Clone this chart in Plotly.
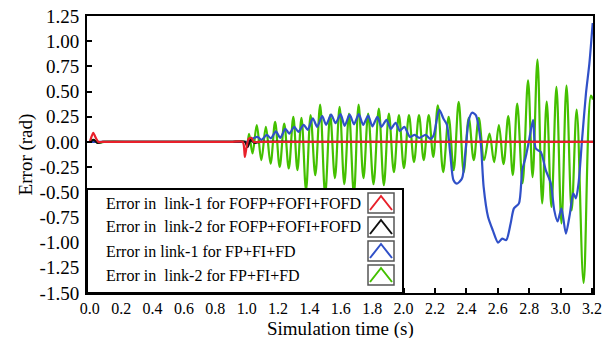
import plotly.graph_objects as go

# ---------------- data ----------------
red_t = [0.0, 0.008, 0.022, 0.038, 0.055, 0.08, 0.3, 0.6, 0.9, 0.975, 0.988, 0.998, 1.012, 1.03, 1.045, 1.07, 1.5, 2.0, 2.5, 3.0, 3.207]
red_e = [0.0, 0.04, 0.09, 0.04, 0.0, 0.0, 0.0, 0.0, 0.0, 0.0, -0.15, -0.06, 0.03, 0.04, 0.0, 0.0, 0.0, 0.0, 0.0, 0.0, 0.0]

black_t = [0.0, 0.025, 0.05, 0.08, 0.3, 0.6, 0.9, 0.99, 1.005, 1.025, 1.05, 1.08, 1.5, 2.0, 2.5, 3.0, 3.207]
black_e = [0.0, 0.02, -0.01, 0.0, 0.0, 0.0, 0.0, 0.0, -0.05, 0.02, -0.01, 0.0, 0.0, 0.0, 0.0, 0.0, 0.0]

blue_t = [0.0, 0.3, 0.6, 0.9, 0.995, 1.005, 1.035, 1.068, 1.094, 1.128, 1.154, 1.186, 1.214, 1.246,
          1.271, 1.303, 1.329, 1.363, 1.389, 1.421, 1.449, 1.481, 1.506, 1.538,
          1.566, 1.598, 1.624, 1.656, 1.684, 1.714, 1.742, 1.774, 1.801, 1.833,
          1.859, 1.891, 1.918, 1.949, 1.976, 2.005, 2.04, 2.07, 2.10, 2.14,
          2.17, 2.19, 2.227, 2.254, 2.276, 2.297, 2.318, 2.34, 2.372, 2.393,
          2.415, 2.436, 2.46, 2.49, 2.51, 2.538, 2.568, 2.602, 2.628, 2.654,
          2.682, 2.703, 2.735, 2.756, 2.778, 2.80, 2.825, 2.842, 2.874, 2.906,
          2.938, 2.96, 2.981, 3.006, 3.034, 3.06, 3.081, 3.098, 3.115, 3.137,
          3.162, 3.184, 3.205]
blue_e = [0.0, 0.0, 0.0, 0.0, 0.0, 0.0, 0.03, 0.05, 0.02, 0.07, 0.035, 0.105, 0.04, 0.13,
          0.083, 0.15, 0.10, 0.17, 0.12, 0.235, 0.15, 0.255, 0.17, 0.27,
          0.185, 0.275, 0.16, 0.27, 0.175, 0.275, 0.17, 0.26, 0.155, 0.25,
          0.15, 0.22, 0.13, 0.19, 0.11, 0.15, 0.05, 0.07, 0.04, 0.07,
          0.03, 0.06, 0.32, 0.23, 0.17, -0.115, -0.38, -0.414, -0.364, -0.115,
          0.215, 0.29, 0.265, 0.017, -0.447, -0.744, -0.876, -1.0, -0.96, -0.975,
          -0.81, -0.66, -0.61, -0.28, -0.15, 0.02, 0.22, -0.066, -0.10, -0.28,
          -0.41, -0.677, -0.79, -0.66, -0.91, -0.71, -0.51, -0.56, -0.41, 0.017,
          0.48, 0.78, 1.18]

green_t = [0.0, 0.02, 0.05, 0.09, 0.3, 0.6, 0.9, 0.995, 1.003, 1.015, 1.037, 1.064, 1.093, 1.122,
           1.152, 1.181, 1.210, 1.239, 1.268, 1.297, 1.323, 1.349, 1.378, 1.407,
           1.437, 1.468, 1.500, 1.532, 1.562, 1.592, 1.622, 1.652, 1.683, 1.713,
           1.744, 1.774, 1.808, 1.842, 1.874, 1.906, 1.938, 1.970, 2.002, 2.034,
           2.066, 2.098, 2.128, 2.160, 2.189, 2.218, 2.252, 2.287, 2.319, 2.351,
           2.383, 2.415, 2.447, 2.479, 2.513, 2.547, 2.577, 2.607, 2.637, 2.667,
           2.696, 2.724, 2.758, 2.793, 2.822, 2.853, 2.883, 2.912, 2.942, 2.974,
           3.006, 3.038, 3.071, 3.103, 3.147, 3.194, 3.207]
green_e = [0.0, 0.02, -0.01, 0.0, 0.0, 0.0, 0.0, 0.0, -0.04, 0.08, -0.115, 0.166, -0.18, 0.15,
           -0.215, 0.198, -0.248, 0.183, -0.264, 0.248, -0.28, 0.24, -0.48, 0.265,
           -0.33, 0.37, -0.52, 0.27, -0.36, 0.347, -0.42, 0.28, -0.52, 0.37,
           -0.36, 0.28, -0.42, 0.33, -0.43, 0.28, -0.30, 0.265, -0.26, 0.265,
           -0.20, 0.265, -0.18, 0.265, -0.15, 0.364, -0.30, 0.25, -0.28, 0.397,
           -0.30, 0.24, -0.18, 0.24, -0.18, 0.083, -0.20, 0.166, -0.22, 0.255,
           -0.33, 0.38, -0.41, 0.61, -0.35, 0.817, -0.61, 0.40, -0.645, 0.546,
           -0.81, 0.56, -0.68, 0.32, -1.40, 0.46, 0.42]

legend_labels = ["Error in\u00a0 link-1 for FOFP+FOFI+FOFD",
                 "Error in\u00a0 link-2 for FOFP+FOFI+FOFD",
                 "Error in link-1 for FP+FI+FD",
                 "Error in\u00a0 link-2 for FP+FI+FD"]
legend_colors = ["#e8202a", "#111111", "#3050c8", "#44c000"]

x_ticks = [0.0, 0.2, 0.4, 0.6, 0.8, 1.0, 1.2, 1.4, 1.6, 1.8, 2.0, 2.2, 2.4, 2.6, 2.8, 3.0, 3.2]
y_ticks = [1.25, 1.0, 0.75, 0.5, 0.25, 0.0, -0.25, -0.5, -0.75, -1.0, -1.25, -1.5]

x_title = "Simulation time (s)"
y_title = "Error (rad)"

# ---------------- figure ----------------
W, H = 610, 340
L, R, T, B = 87, 593, 16, 293
FONT = "Liberation Serif, Times New Roman, serif"

fig = go.Figure()
series = [(green_t, green_e, legend_colors[3], 1.0),
          (blue_t, blue_e, legend_colors[2], 0.7),
          (black_t, black_e, legend_colors[1], 0.6),
          (red_t, red_e, legend_colors[0], 0.6)]
for t, e, c, sm in series:
    fig.add_trace(go.Scatter(x=t, y=e, mode="lines",
                             line=dict(color=c, width=2.2, shape="spline", smoothing=sm),
                             showlegend=False, hoverinfo="skip"))

def xp(px):
    return (px - L) / (R - L)

def yp(py):
    return (B - py) / (B - T)

shapes = []
# legend box (opaque, covers lines)
shapes.append(dict(type="rect", xref="paper", yref="paper", layer="above",
                   x0=xp(L), x1=xp(403), y0=yp(B), y1=yp(189),
                   fillcolor="white", line=dict(color="black", width=2)))
annotations = []
rows = [203, 227, 251, 275]
for lab, col, ry in zip(legend_labels, legend_colors, rows):
    annotations.append(dict(xref="paper", yref="paper", x=xp(104), y=yp(ry),
                            xanchor="left", yanchor="middle", text=lab, showarrow=False,
                            font=dict(family=FONT, size=16, color="black")))
    shapes.append(dict(type="rect", xref="paper", yref="paper", layer="above",
                       x0=xp(368), x1=xp(394), y0=yp(ry + 10), y1=yp(ry - 10),
                       fillcolor="white", line=dict(color="#555555", width=1.5)))
    path = "M {:.5f},{:.5f} L {:.5f},{:.5f} L {:.5f},{:.5f}".format(
        xp(370), yp(ry + 7), xp(381), yp(ry - 7), xp(392), yp(ry + 7))
    shapes.append(dict(type="path", xref="paper", yref="paper", layer="above",
                       path=path, line=dict(color=col, width=2)))

# x-axis title as a free text placed under the tick labels
annotations.append(dict(xref="paper", yref="paper", x=0.5, y=yp(339), xanchor="center",
                        yanchor="bottom", text=x_title, showarrow=False,
                        height=18, borderpad=0, valign="middle",
                        font=dict(family=FONT, size=19, color="black")))

fig.update_layout(
    width=W, height=H,
    margin=dict(l=L, r=W - R, t=T, b=H - B, pad=0, autoexpand=False),
    paper_bgcolor="white", plot_bgcolor="white",
    font=dict(family=FONT, color="black"),
    shapes=shapes, annotations=annotations,
    xaxis=dict(range=[-0.018, 3.207], tickvals=x_ticks, ticktext=["%.1f" % v for v in x_ticks],
               ticks="inside", ticklen=5, tickwidth=1.5, tickcolor="black", automargin=False,
               showline=True, linecolor="black", linewidth=2, mirror=True,
               showgrid=False, zeroline=False, ticklabelstandoff=0,
               tickfont=dict(family=FONT, size=16, color="black")),
    yaxis=dict(range=[-1.5, 1.25], tickvals=y_ticks, ticktext=["%.2f" % v for v in y_ticks],
               ticks="inside", ticklen=5, tickwidth=1.5, tickcolor="black", automargin=False,
               showline=True, linecolor="black", linewidth=2, mirror=True,
               showgrid=False, zeroline=False, ticklabelstandoff=2,
               tickfont=dict(family=FONT, size=19, color="black"),
               title=dict(text=y_title, font=dict(family=FONT, size=19), standoff=2)),
)

fig.write_html("out.html", config={"displayModeBar": False},
               post_script="document.body.style.margin='0';document.body.style.overflow='hidden';")
